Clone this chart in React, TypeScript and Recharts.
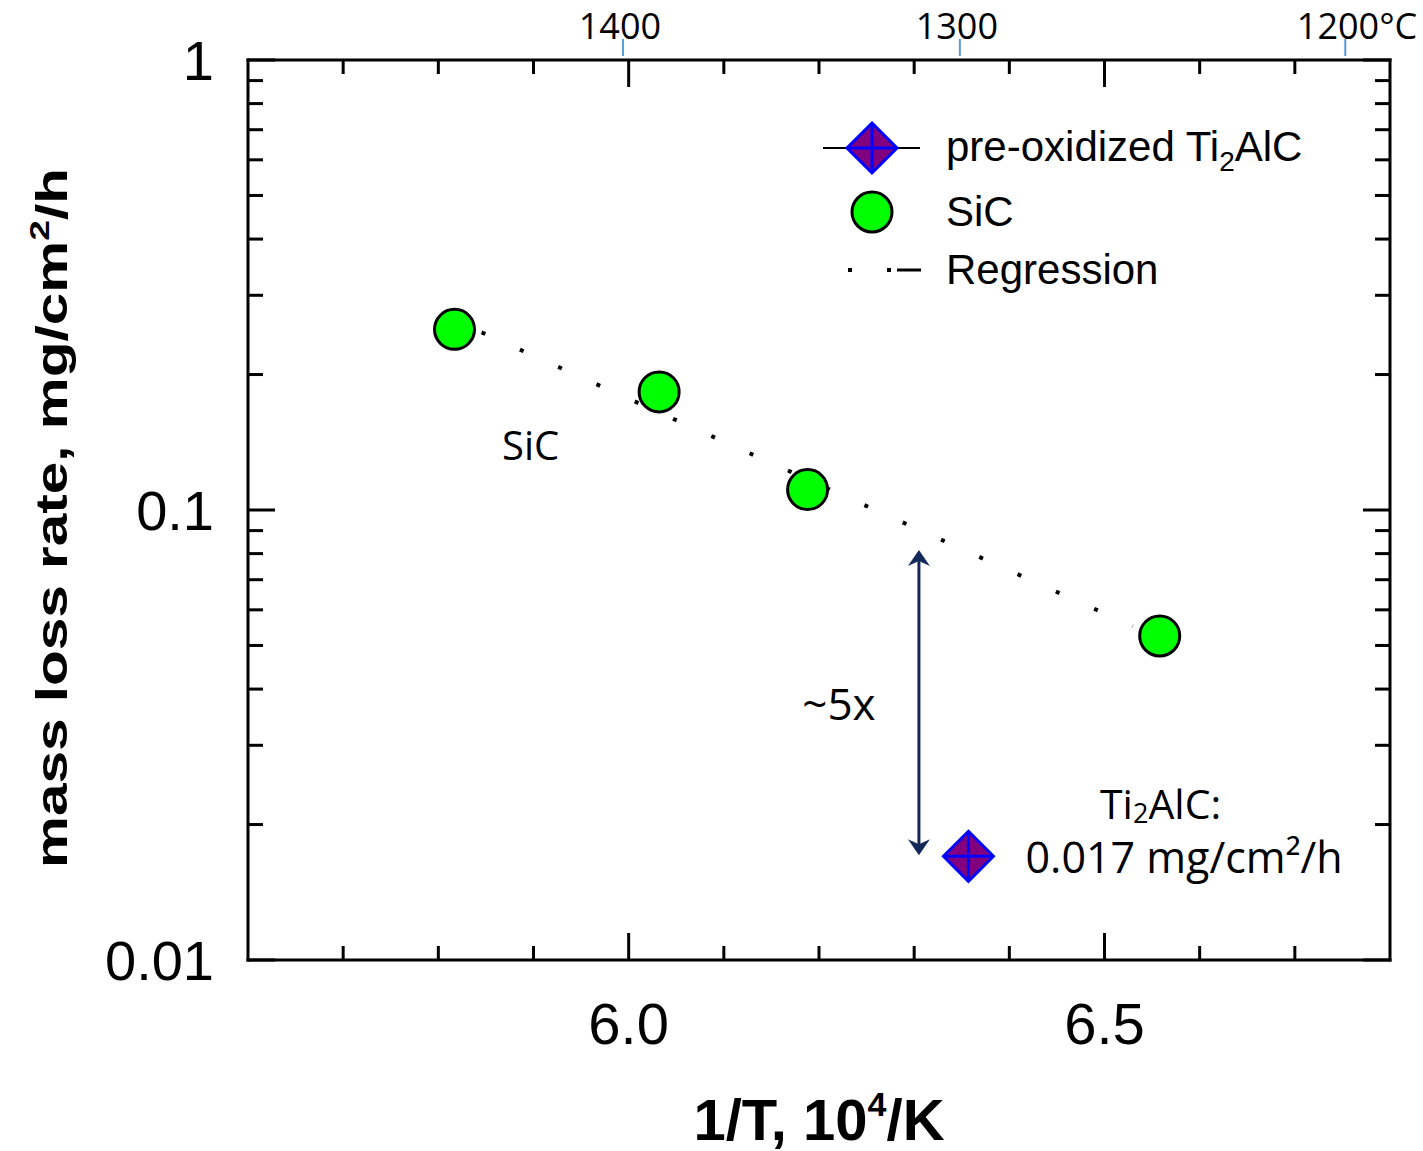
import React from 'react';
import {
  ComposedChart,
  Scatter,
  Line,
  XAxis,
  YAxis,
  ReferenceLine,
  ReferenceDot,
  Legend,
} from 'recharts';

// ---- data (1/T in 10^4/K, mass loss rate in mg/cm^2/h) ----
const sicInvT = [5.817, 6.032, 6.188, 6.558];
const sicRate = [0.252, 0.183, 0.111, 0.0525];
const ti2alcInvT = [6.357];
const ti2alcRate = [0.017];
const regressionInvT = [5.8455, 6.5296];
const regressionRate = [0.2482, 0.0552];
const arrowInvT = [6.305, 6.305];
const arrowRate = [0.0815, 0.0171];

// ---- ticks ----
const xTickValues = [5.7, 5.8, 5.9, 6.0, 6.1, 6.2, 6.3, 6.4, 6.5, 6.6, 6.7];
const xLabelValues = [6.0, 6.5];
const yTickValues = [
  0.01, 0.02, 0.03, 0.04, 0.05, 0.06, 0.07, 0.08, 0.09,
  0.1, 0.2, 0.3, 0.4, 0.5, 0.6, 0.7, 0.8, 0.9, 1,
];
const yLabelValues = [0.01, 0.1, 1];
const tempTickValues = [5.994, 6.348, 6.753];
const tempTickLabels = ['1400', '1300', '1200°C'];

// ---- annotations ----
const sicNoteInvT = 5.897;
const sicNoteRate = 0.14;
const factorNoteInvT = 6.221;
const factorNoteRate = 0.0372;
const tiNoteInvT = 6.559;
const tiNoteRate = 0.0223;
const valueNoteInvT = 6.417;
const valueNoteRate = 0.01695;

const sicData = sicInvT.map((x, i) => ({ x, y: sicRate[i] }));
const tiData = ti2alcInvT.map((x, i) => ({ x, y: ti2alcRate[i] }));
const regressionData = regressionInvT.map((x, i) => ({ x, y: regressionRate[i] }));

const ARIAL = "'Liberation Sans', Arial, Helvetica, sans-serif";
const CALIBRI = "'Open Sans', 'Noto Sans', sans-serif";
const NAVY = '#14295a';

const near = (a: number, b: number) => Math.abs(a - b) < 1e-9;
const isIn = (v: number, arr: number[]) => arr.some((a) => near(a, v));

const LeftTick = (props: any) => {
  const { x, y, payload } = props;
  const v = payload.value;
  const major = isIn(v, yLabelValues);
  return (
    <g>
      <line x1={x} x2={x + (major ? 27 : 15)} y1={y} y2={y} stroke="#000" strokeWidth={3} />
      {major && (
        <text x={x - 34} y={y} textAnchor="end" dominantBaseline="central" fontFamily={ARIAL} fontSize={56} fill="#000">
          {String(v)}
        </text>
      )}
    </g>
  );
};

const RightTick = (props: any) => {
  const { x, y, payload } = props;
  const major = isIn(payload.value, yLabelValues);
  return <line x1={x} x2={x - (major ? 27 : 15)} y1={y} y2={y} stroke="#000" strokeWidth={3} />;
};

const BottomTick = (props: any) => {
  const { x, y, payload } = props;
  const v = payload.value;
  const major = isIn(v, xLabelValues);
  return (
    <g>
      <line x1={x} x2={x} y1={y} y2={y - (major ? 27 : 14)} stroke="#000" strokeWidth={3} />
      {major && (
        <text x={x} y={y + 84} textAnchor="middle" fontFamily={ARIAL} fontSize={58} fill="#000">
          {v.toFixed(1)}
        </text>
      )}
    </g>
  );
};

const TopTick = (props: any) => {
  const { x, y, payload } = props;
  const v = payload.value;
  const ti = tempTickValues.findIndex((t) => near(t, v));
  if (ti >= 0) {
    const label = tempTickLabels[ti];
    const withUnit = label.length > 4;
    return (
      <g>
        <line x1={x} x2={x} y1={y - 21} y2={y - 4} stroke="#5b9bd5" strokeWidth={2} />
        <text
          x={withUnit ? x + 72 : x - 3}
          y={y - 21}
          textAnchor={withUnit ? 'end' : 'middle'}
          fontFamily={CALIBRI}
          fontSize={36}
          fill="#000"
        >
          {label}
        </text>
      </g>
    );
  }
  const major = isIn(v, xLabelValues);
  return <line x1={x} x2={x} y1={y} y2={y + (major ? 27 : 14)} stroke="#000" strokeWidth={3} />;
};

const Diamond = ({ cx, cy, s = 25 }: any) => (
  <g>
    <polygon
      points={`${cx},${cy - s} ${cx + s},${cy} ${cx},${cy + s} ${cx - s},${cy}`}
      fill="#800080"
      stroke="#0000ff"
      strokeWidth={3}
      strokeLinejoin="miter"
    />
    <line x1={cx - s} x2={cx + s} y1={cy} y2={cy} stroke="#0000ff" strokeWidth={3} />
    <line x1={cx} x2={cx} y1={cy - s} y2={cy + s} stroke="#0000ff" strokeWidth={3} />
  </g>
);

const SicDot = ({ cx, cy }: any) => (
  <circle cx={cx} cy={cy} r={20} fill="#00ff00" stroke="#000" strokeWidth={3} />
);

const TiDot = ({ cx, cy }: any) => <Diamond cx={cx} cy={cy} />;

const ArrowShape = (props: any) => {
  const { x1, y1, x2, y2 } = props;
  const top = Math.min(y1, y2);
  const bottom = Math.max(y1, y2);
  const x = x1;
  return (
    <g>
      <line x1={x} x2={x2} y1={top + 8} y2={bottom - 8} stroke={NAVY} strokeWidth={3} />
      <polygon points={`${x},${top} ${x - 11},${top + 16} ${x},${top + 11} ${x + 11},${top + 16}`} fill={NAVY} />
      <polygon
        points={`${x},${bottom} ${x - 11},${bottom - 16} ${x},${bottom - 11} ${x + 11},${bottom - 16}`}
        fill={NAVY}
      />
    </g>
  );
};

const YTitle = (props: any) => {
  const vb = props.viewBox || { x: 8, y: 60, width: 240, height: 900 };
  const cx = vb.x + vb.width - 181;
  const cy = vb.y + vb.height / 2 + 8;
  return (
    <text
      transform={`translate(${cx}, ${cy}) rotate(-90)`}
      x={0}
      y={0}
      textAnchor="middle"
      fontFamily={ARIAL}
      fontWeight="bold"
      fontSize={44}
      textLength={700}
      lengthAdjust="spacingAndGlyphs"
      fill="#000"
    >
      mass loss rate, mg/cm
      <tspan dy={-18} fontSize={28}>2</tspan>
      <tspan dy={18}>/h</tspan>
    </text>
  );
};

const XTitle = (props: any) => {
  const vb = props.viewBox || { x: 248, y: 960, width: 1142, height: 100 };
  return (
    <text
      x={vb.x + vb.width / 2}
      y={vb.y + 180}
      textAnchor="middle"
      fontFamily={ARIAL}
      fontWeight="bold"
      fontSize={58}
      fill="#000"
    >
      1/T, 10
      <tspan dy={-24} fontSize={34}>4</tspan>
      <tspan dy={24}>/K</tspan>
    </text>
  );
};

const LegendContent = () => (
  <svg width={520} height={190} style={{ display: 'block', overflow: 'visible' }}>
    <line x1={8} x2={105} y1={38} y2={38} stroke="#000" strokeWidth={2} />
    <Diamond cx={57} cy={38} />
    <text x={131} y={51} fontFamily={ARIAL} fontSize={42} fill="#000">
      pre-oxidized Ti
      <tspan dy={10} fontSize={28}>2</tspan>
      <tspan dy={-10}>AlC</tspan>
    </text>
    <circle cx={57} cy={102} r={20} fill="#00ff00" stroke="#000" strokeWidth={3} />
    <text x={131} y={116} fontFamily={ARIAL} fontSize={42} fill="#000">
      SiC
    </text>
    <rect x={33} y={158} width={4} height={4} fill="#000" />
    <rect x={72} y={158} width={4} height={4} fill="#000" />
    <line x1={82} x2={106} y1={160} y2={160} stroke="#000" strokeWidth={3} />
    <text x={131} y={174} fontFamily={ARIAL} fontSize={42} fill="#000">
      Regression
    </text>
  </svg>
);

const textShape = (content: React.ReactNode, anchor: 'start' | 'middle' | 'end', size = 42) => (p: any) => (
  <text
    x={p.cx}
    y={p.cy}
    textAnchor={anchor}
    dominantBaseline="central"
    fontFamily={CALIBRI}
    fontSize={size}
    fill="#000"
  >
    {content}
  </text>
);

export default function App() {
  return (
    <div style={{ position: 'absolute', left: 0, top: 0, width: 1423, height: 1151, background: '#fff' }}>
      <ComposedChart
        width={1423}
        height={1151}
        margin={{ top: 0, right: 23, bottom: 91, left: 8 }}
      >
        <XAxis
          xAxisId="b"
          type="number"
          dataKey="x"
          domain={[5.6, 6.8]}
          allowDataOverflow
          ticks={xTickValues}
          interval={0}
          tickSize={0}
          tickMargin={0}
          tickLine={false}
          tick={BottomTick}
          axisLine={{ stroke: '#000', strokeWidth: 3, strokeLinecap: 'square' }}
          height={100}
          orientation="bottom"
          label={XTitle}
        />
        <XAxis
          xAxisId="t"
          type="number"
          dataKey="x"
          domain={[5.6, 6.8]}
          allowDataOverflow
          ticks={[...xTickValues, ...tempTickValues]}
          interval={0}
          tickSize={0}
          tickMargin={0}
          tickLine={false}
          tick={TopTick}
          axisLine={{ stroke: '#000', strokeWidth: 3, strokeLinecap: 'square' }}
          height={60}
          orientation="top"
        />
        <YAxis
          yAxisId="l"
          type="number"
          dataKey="y"
          scale="log"
          domain={[0.01, 1]}
          allowDataOverflow
          ticks={yTickValues}
          interval={0}
          tickSize={0}
          tickMargin={0}
          tickLine={false}
          tick={LeftTick}
          axisLine={{ stroke: '#000', strokeWidth: 3, strokeLinecap: 'square' }}
          width={240}
          orientation="left"
          label={YTitle}
        />
        <YAxis
          yAxisId="r"
          type="number"
          dataKey="y"
          scale="log"
          domain={[0.01, 1]}
          allowDataOverflow
          ticks={yTickValues}
          interval={0}
          tickSize={0}
          tickMargin={0}
          tickLine={false}
          tick={RightTick}
          axisLine={{ stroke: '#000', strokeWidth: 3, strokeLinecap: 'square' }}
          width={10}
          orientation="right"
        />
        <Legend
          layout="vertical"
          align="center"
          verticalAlign="middle"
          content={LegendContent}
          wrapperStyle={{ position: 'absolute', left: 815, top: 110, width: 520, height: 190 }}
        />
        <Line
          xAxisId="b"
          yAxisId="l"
          data={regressionData}
          dataKey="y"
          type="linear"
          stroke="#000"
          strokeWidth={4}
          strokeDasharray="4 38"
          dot={false}
          activeDot={false}
          legendType="none"
          isAnimationActive={false}
        />
        <ReferenceLine
          xAxisId="b"
          yAxisId="l"
          segment={[
            { x: arrowInvT[0], y: arrowRate[0] },
            { x: arrowInvT[1], y: arrowRate[1] },
          ]}
          shape={ArrowShape}
        />
        <Scatter
          xAxisId="b"
          yAxisId="l"
          name="SiC"
          data={sicData}
          dataKey="y"
          shape={SicDot}
          isAnimationActive={false}
        />
        <Scatter
          xAxisId="b"
          yAxisId="l"
          name="pre-oxidized Ti2AlC"
          data={tiData}
          dataKey="y"
          shape={TiDot}
          isAnimationActive={false}
        />
        <ReferenceDot xAxisId="b" yAxisId="l" x={sicNoteInvT} y={sicNoteRate} shape={textShape('SiC', 'middle', 40)} />
        <ReferenceDot xAxisId="b" yAxisId="l" x={factorNoteInvT} y={factorNoteRate} shape={textShape('~5x', 'middle', 44)} />
        <ReferenceDot
          xAxisId="b"
          yAxisId="l"
          x={tiNoteInvT}
          y={tiNoteRate}
          shape={textShape(
            <>
              Ti<tspan dy={9} fontSize={27}>2</tspan>
              <tspan dy={-9}>AlC:</tspan>
            </>,
            'middle',
            41
          )}
        />
        <ReferenceDot
          xAxisId="b"
          yAxisId="l"
          x={valueNoteInvT}
          y={valueNoteRate}
          shape={textShape('0.017 mg/cm²/h', 'start', 43)}
        />
      </ComposedChart>
    </div>
  );
}
